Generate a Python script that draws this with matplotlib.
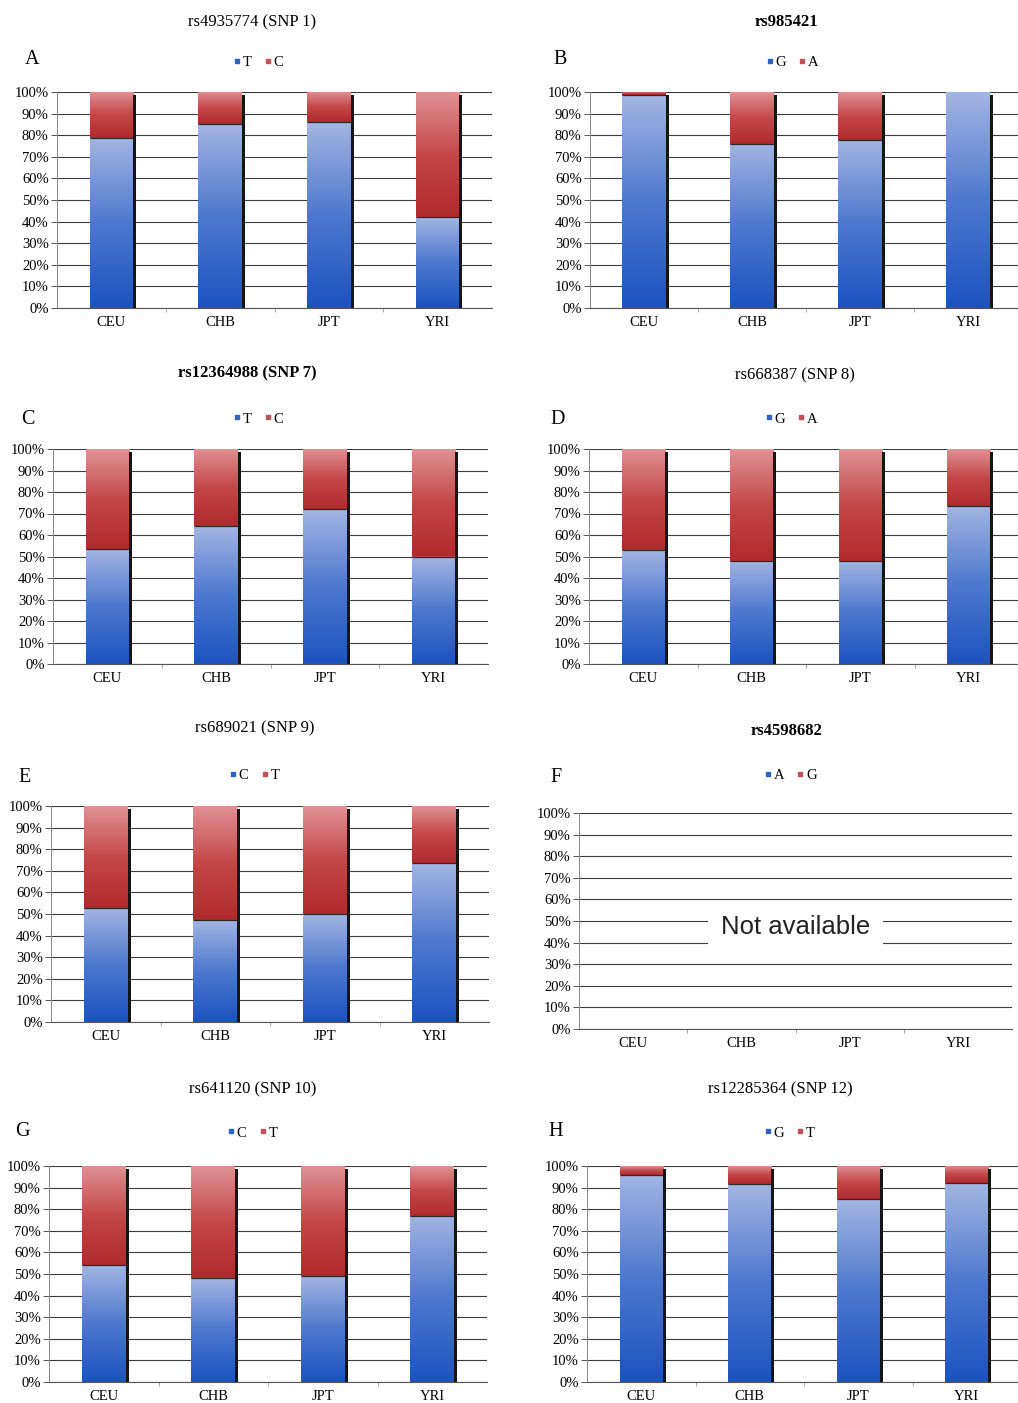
import numpy as np
import matplotlib
matplotlib.use('Agg')
import matplotlib.pyplot as plt
from matplotlib.colors import LinearSegmentedColormap
from matplotlib.lines import Line2D
from matplotlib.ticker import FixedLocator

plt.rcParams['font.family'] = ['Liberation Serif', 'DejaVu Serif']

# Популяции HapMap
populations = ['CEU', 'CHB', 'JPT', 'YRI']

letters = ['A', 'B', 'C', 'D', 'E', 'F', 'G', 'H']
titles = ['rs4935774 (SNP 1)', 'rs985421', 'rs12364988 (SNP 7)', 'rs668387 (SNP 8)',
          'rs689021 (SNP 9)', 'rs4598682', 'rs641120 (SNP 10)', 'rs12285364 (SNP 12)']
title_bold = [False, True, True, False, False, True, False, False]
alleles = [('T', 'C'), ('G', 'A'), ('T', 'C'), ('G', 'A'),
           ('C', 'T'), ('A', 'G'), ('C', 'T'), ('G', 'T')]

# частота первого аллеля, %
freq_A = [78.5, 85, 86, 42]
freq_B = [98.5, 76, 78, 100]
freq_C = [53.5, 64, 72, 50]
freq_D = [53, 48, 48, 73.5]
freq_E = [53, 47, 50, 73.5]
freq_F = None  # нет данных
freq_G = [54, 48, 49, 77]
freq_H = [96, 91.5, 84.5, 92]
freqs = [freq_A, freq_B, freq_C, freq_D, freq_E, freq_F, freq_G, freq_H]

W, H = 1018, 1403
fig = plt.figure(figsize=(W / 100, H / 100), dpi=100)

# положение панелей в пикселях: left, top, right, bottom
boxes = [(57, 92, 492, 308), (590, 92, 1022, 308),
         (53, 449, 488, 664), (589, 449, 1023, 664),
         (51, 806, 489, 1022), (579, 813, 1012, 1029),
         (49, 1166, 487, 1382), (587, 1166, 1021, 1382)]
title_xy = [(252, 22), (786, 22), (247, 373), (795, 375),
            (255, 728), (787, 731), (253, 1089), (780, 1089)]
letter_xy = [(32, 60), (560, 60), (28, 420), (558, 420),
             (25, 778), (556, 778), (22, 1131), (556, 1131)]
legend_xy = [(258, 62), (792, 62), (258, 419), (791, 419),
             (254, 775), (790, 775), (252, 1133), (789, 1133)]

blue_cm = LinearSegmentedColormap.from_list('b', ['#1d52bf', '#4d78cf', '#a3b5e2'])
red_cm = LinearSegmentedColormap.from_list('r', ['#b02a2c', '#c44848', '#e09296'])
grad = np.linspace(0, 1, 256).reshape(-1, 1)


def fx(x):
    return x / W


def fy(y):
    return 1 - y / H


def paint(ax, bars, cmap):
    for b in bars:
        x0, y0 = b.get_x(), b.get_y()
        x1, y1 = x0 + b.get_width(), y0 + b.get_height()
        if y1 - y0 <= 0:
            continue
        im = ax.imshow(grad, cmap=cmap, extent=[x0, x1, y0, y1], origin='lower',
                       aspect='auto', zorder=2, interpolation='bilinear')
        im.set_clip_path(b)


x = np.arange(len(populations))
bw = 0.40
sw = 0.028

for i in range(8):
    l, t, r, b = boxes[i]
    ax = fig.add_axes([fx(l), fy(b), fx(r) - fx(l), (b - t) / H])
    f = freqs[i]
    if f is not None:
        first = np.array(f)
        second = 100 - first
        b1 = ax.bar(x, first, bw, color='#4d78cf', zorder=2, linewidth=0)
        b2 = ax.bar(x, second, bw, bottom=first, color='#c44848', zorder=2, linewidth=0)
        paint(ax, b1, blue_cm)
        paint(ax, b2, red_cm)
        # тёмная граница между сегментами
        m = first < 100
        ax.hlines(first[m], x[m] - bw / 2, x[m] + bw / 2, color='#2a2a2a', lw=0.9, zorder=3)
        # тень справа от столбца
        ax.bar(x + bw / 2 + sw / 2, 98.5, sw, color='#151515', zorder=3, linewidth=0)
    else:
        ax.text(1.5, 47, 'Not available', ha='center', va='center', fontsize=18.5,
                family=['Liberation Sans', 'DejaVu Sans'], color='#222222', zorder=4,
                bbox=dict(boxstyle='square,pad=0.5', facecolor='white', edgecolor='none'))

    ax.set_xlim(-0.5, 3.5)
    ax.set_ylim(0, 100)
    ax.set_yticks(np.arange(0, 101, 10))
    ax.set_yticklabels([f'{v}%' for v in range(0, 101, 10)], fontsize=10.5)
    ax.set_xticks(x)
    ax.set_xticklabels(populations, fontsize=10.5)
    ax.xaxis.set_minor_locator(FixedLocator([0.5, 1.5, 2.5]))
    ax.tick_params(axis='x', which='major', length=0, pad=6)
    ax.tick_params(axis='x', which='minor', length=3, color='#999999', width=0.6)
    ax.tick_params(axis='y', length=4, width=0.7, color='#555555', pad=2)
    ax.yaxis.grid(True, color='#3c3c3c', lw=0.8)
    ax.set_axisbelow(True)
    for s in ['top', 'right']:
        ax.spines[s].set_visible(False)
    ax.spines['left'].set_color('#888888')
    ax.spines['left'].set_linewidth(0.7)
    ax.spines['left'].set_linestyle((0, (2, 1)))
    ax.spines['bottom'].set_color('#555555')
    ax.spines['bottom'].set_linewidth(0.8)

    tx, ty = title_xy[i]
    fig.text(fx(tx), fy(ty), titles[i], ha='center', va='center', fontsize=12,
             fontweight='bold' if title_bold[i] else 'normal')
    lx, ly = letter_xy[i]
    fig.text(fx(lx), fy(ly), letters[i], ha='center', va='center', fontsize=14.5)

    handles = [Line2D([], [], marker='s', ls='', color='#2f62c4', markersize=3),
               Line2D([], [], marker='s', ls='', color='#c4505a', markersize=3)]
    gx, gy = legend_xy[i]
    fig.legend(handles, alleles[i], loc='center', bbox_to_anchor=(fx(gx), fy(gy)),
               ncol=2, frameon=False, fontsize=10.5, handletextpad=0.1,
               columnspacing=0.8, handlelength=0.6, borderpad=0)

fig.savefig('out.png', dpi=100)
